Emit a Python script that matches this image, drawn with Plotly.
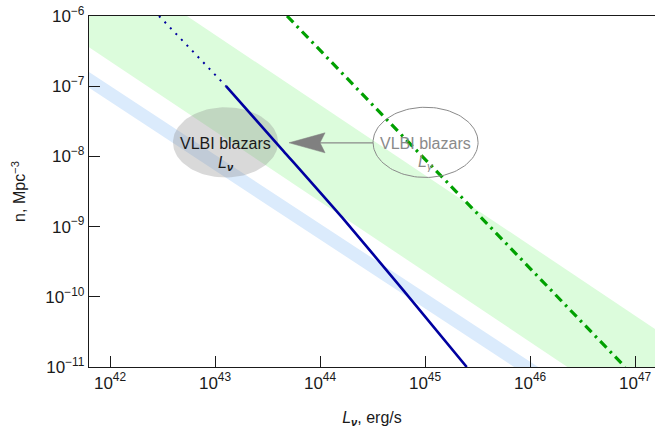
import numpy as np
import plotly.graph_objects as go

# ---- data (log10 values) ----
x_tick_exp = [42, 43, 44, 45, 46, 47]
y_tick_exp = [-11, -10, -9, -8, -7, -6]

blue_dot_logL = [42.467, 43.105]
blue_dot_logn = [-6.0, -7.0]
blue_solid_logL = [43.105, 43.65, 44.21, 44.8, 45.397]
blue_solid_logn = [-7.0, -7.92, -8.87, -9.92, -11.0]

green_line_logL = [43.686, 46.905]
green_line_logn = [-6.0, -11.0]

green_band_logL = [41.7, 47.3]
green_band_upper = [-4.967, -10.567]
green_band_lower = [-6.344, -11.944]

blue_band_logL = [41.7, 46.2]
blue_band_upper = [-6.70, -11.12]
blue_band_lower = [-6.925, -11.345]

ell_left_center = (43.10, -7.80)
ell_right_center = (45.005, -7.80)
ell_radius = (0.5, 0.5)

arrow_logL = [43.705, 44.048, 44.0, 44.048]
arrow_logn = [-7.806, -7.664, -7.806, -7.949]
arrow_line_logL = [44.0, 44.505]
arrow_line_logn = [-7.806, -7.806]

P = lambda a: [10.0 ** v for v in a]

fig = go.Figure()

# green band
fig.add_trace(go.Scatter(
    x=P(green_band_logL + green_band_logL[::-1]),
    y=P(green_band_upper + green_band_lower[::-1]),
    fill="toself", fillcolor="#dcfcdc", line=dict(width=0),
    mode="lines", hoverinfo="skip", showlegend=False))

# blue band
fig.add_trace(go.Scatter(
    x=P(blue_band_logL + blue_band_logL[::-1]),
    y=P(blue_band_upper + blue_band_lower[::-1]),
    fill="toself", fillcolor="#dbebfc", line=dict(width=0),
    mode="lines", hoverinfo="skip", showlegend=False))

# ellipses
t = np.linspace(0, 2 * np.pi, 121)
def ellipse(c):
    return (10.0 ** (c[0] + ell_radius[0] * np.cos(t)),
            10.0 ** (c[1] + ell_radius[1] * np.sin(t)))

ex, ey = ellipse(ell_left_center)
fig.add_trace(go.Scatter(x=ex, y=ey, fill="toself",
                         fillcolor="rgba(140,140,140,0.33)",
                         line=dict(width=0), mode="lines",
                         hoverinfo="skip", showlegend=False))

# green dash-dot line
fig.add_trace(go.Scatter(
    x=P(green_line_logL), y=P(green_line_logn), mode="lines",
    line=dict(color="#00a000", width=3.2, dash="9px,5px,2.5px,5px"),
    showlegend=False))

# blue lines
fig.add_trace(go.Scatter(
    x=P(blue_dot_logL), y=P(blue_dot_logn), mode="lines",
    line=dict(color="#0000a0", width=2, dash="2px,6px"),
    showlegend=False))
fig.add_trace(go.Scatter(
    x=P(blue_solid_logL), y=P(blue_solid_logn), mode="lines",
    line=dict(color="#0000a0", width=2.6, shape="spline", smoothing=0.6),
    showlegend=False))

ex, ey = ellipse(ell_right_center)
fig.add_trace(go.Scatter(x=ex, y=ey, mode="lines",
                         line=dict(color="#8a8a8a", width=1),
                         hoverinfo="skip", showlegend=False))

# arrow
fig.add_trace(go.Scatter(x=P(arrow_line_logL), y=P(arrow_line_logn),
                         mode="lines", line=dict(color="#8a8a8a", width=1.2),
                         showlegend=False))
fig.add_trace(go.Scatter(x=P(arrow_logL + arrow_logL[:1]),
                         y=P(arrow_logn + arrow_logn[:1]),
                         fill="toself", fillcolor="#808080",
                         line=dict(color="#808080", width=0.5),
                         mode="lines", showlegend=False))

font = "Liberation Sans, Arial, sans-serif"
fig.add_annotation(x=ell_left_center[0], y=-7.816, text="VLBI blazars",
                   showarrow=False, font=dict(size=16, color="#1a1a1a", family=font))
fig.add_annotation(x=ell_left_center[0], y=-8.10,
                   text="<i>L</i><sub><b><i>ν</i></b></sub>",
                   showarrow=False, font=dict(size=16, color="#1a1a1a", family=font))
fig.add_annotation(x=ell_right_center[0], y=-7.81, text="VLBI blazars",
                   showarrow=False, font=dict(size=16, color="#8a8a8a", family=font))
fig.add_annotation(x=ell_right_center[0], y=-8.09,
                   text="<i>L</i><sub><i>γ</i></sub>",
                   showarrow=False, font=dict(size=16, color="#8a8a8a", family=font))

fig.update_layout(
    width=655, height=428,
    margin=dict(l=89, r=0, t=16, b=61),
    plot_bgcolor="white", paper_bgcolor="white",
    font=dict(family=font, size=13, color="#1a1a1a"),
    showlegend=False,
)
fig.update_xaxes(
    type="log", range=[41.8, 47.19], automargin=False,
    tickvals=P(x_tick_exp),
    ticktext=[f"10<sup>{e}</sup>" for e in x_tick_exp],
    ticks="inside", ticklen=11, tickcolor="#1a1a1a", tickwidth=1.2,
    showline=True, linecolor="#1a1a1a", linewidth=1.3, mirror=True,
    showgrid=False, zeroline=False,
    tickfont=dict(size=17),
    title=dict(text="<i>L</i><sub><b><i>ν</i></b></sub>, erg/s",
               font=dict(size=16), standoff=22),
)
fig.update_yaxes(
    type="log", range=[-11, -6], automargin=False,
    tickvals=P(y_tick_exp),
    ticktext=[f"10<sup>−{-e}</sup>" for e in y_tick_exp],
    ticks="inside", ticklen=11, tickcolor="#1a1a1a", tickwidth=1.2,
    showline=True, linecolor="#1a1a1a", linewidth=1.3, mirror=False,
    showgrid=False, zeroline=False,
    tickfont=dict(size=17),
    title=dict(text="n, Mpc<sup>−3</sup>", font=dict(size=16)),
)

fig.write_html(
    "out.html",
    config={"displayModeBar": False},
    post_script="document.body.style.margin='0';document.body.style.overflow='hidden';",
)
